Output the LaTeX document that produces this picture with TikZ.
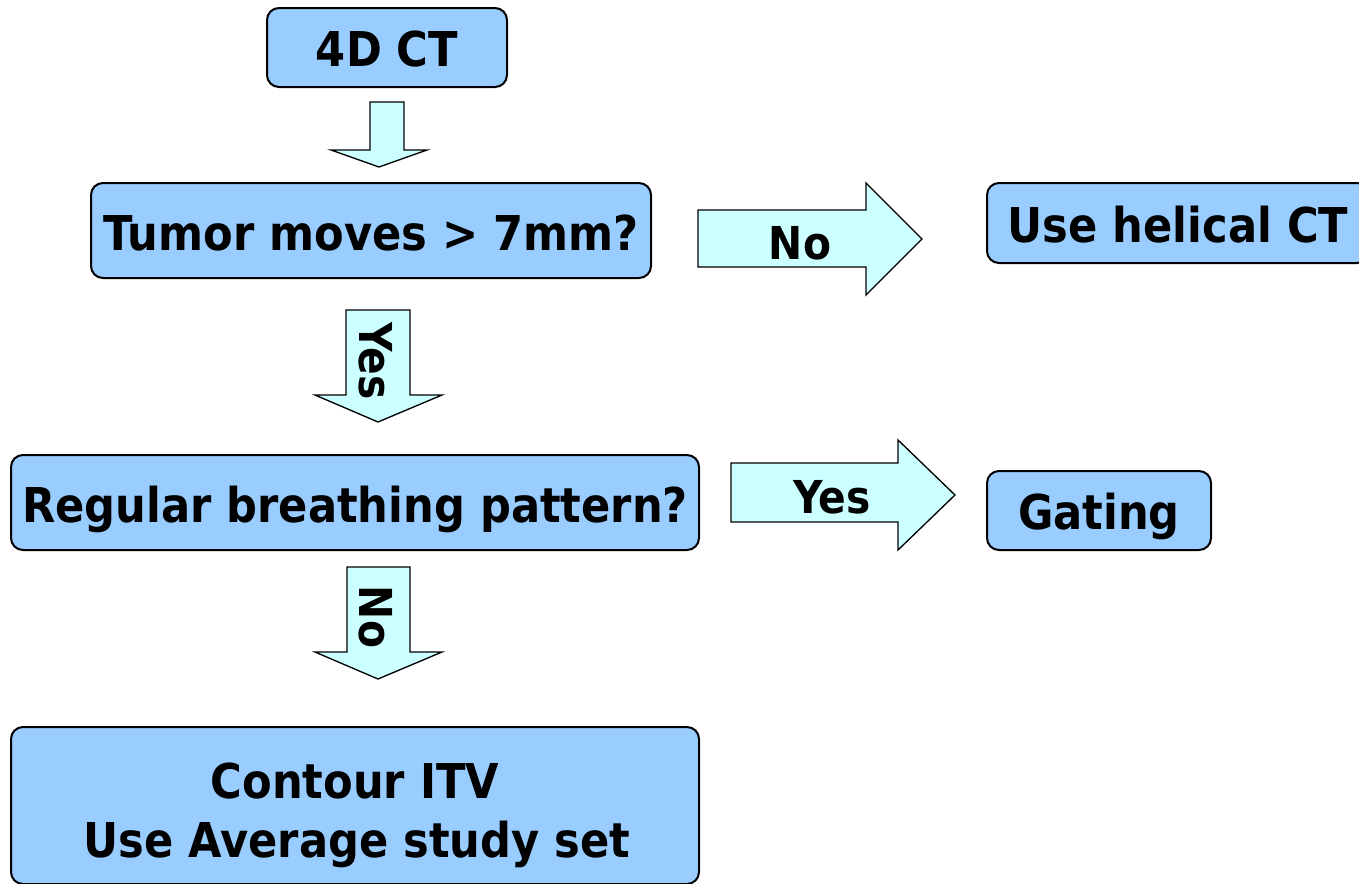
\documentclass[tikz,border=0pt]{standalone}
\usepackage{fontspec}
\setmainfont{DejaVu Sans}[FakeStretch=0.90]
\definecolor{boxblue}{HTML}{99CCFF}
\definecolor{arrowcyan}{HTML}{CCFFFF}
\tikzset{
  txt/.style={font=\fontsize{36}{44}\selectfont\bfseries, text height=26.2pt, text depth=0pt},
  box/.style={txt, draw=black, line width=1.5pt, fill=boxblue, rounded corners=9pt, inner sep=0pt},
  blockarrow/.style={draw=black, line width=1pt, fill=arrowcyan},
  lbl/.style={font=\fontsize{34}{40}\selectfont\bfseries, inner sep=0pt}
}
\begin{document}
\begin{tikzpicture}[x=0.75pt,y=-0.75pt]
\useasboundingbox (0,0) rectangle (1359,883);
% boxes
\node[box, minimum width=240*0.75pt, minimum height=79*0.75pt] (ct) at (387,47.5) {};
\node[txt, inner sep=0pt] (ctt) at (387,49.5) {4D CT};
\node[box, minimum width=560*0.75pt, minimum height=95*0.75pt] (tumor) at (371,230.5) {};
\node[txt, inner sep=0pt] (tumort) at (371,233) {Tumor moves > 7mm?};
\node[box, minimum width=382*0.75pt, minimum height=80*0.75pt] (helical) at (1178,223) {};
\node[txt, inner sep=0pt] (helicalt) at (1178,225.5) {Use helical CT};
\node[box, minimum width=688*0.75pt, minimum height=95*0.75pt] (regular) at (355,502.5) {};
\node[txt, inner sep=0pt] (regulart) at (355,505) {Regular breathing pattern?};
\node[box, minimum width=224*0.75pt, minimum height=79*0.75pt] (gating) at (1099,510.5) {};
\node[txt, inner sep=0pt] (gatingt) at (1099,512) {Gating};
\node[box, minimum width=688*0.75pt, minimum height=157*0.75pt] (contour) at (355,805.5) {};
\node[txt, inner sep=0pt] (contourA) at (355,781) {Contour ITV};
\node[txt, inner sep=0pt] (contourB) at (357,840) {Use Average study set};
% block arrows
\draw[blockarrow] (370,102) -- (404,102) -- (404,150) -- (427,150) -- (379,167) -- (331,150) -- (370,150) -- cycle;
\draw[blockarrow] (698,210) -- (866,210) -- (866,183) -- (922,239) -- (866,295) -- (866,267) -- (698,267) -- cycle;
\draw[blockarrow] (346,310) -- (410,310) -- (410,395) -- (442,395) -- (378,422) -- (315,395) -- (346,395) -- cycle;
\draw[blockarrow] (731,463) -- (898,463) -- (898,440) -- (955,495) -- (898,550) -- (898,522) -- (731,522) -- cycle;
\draw[blockarrow] (347,567) -- (410,567) -- (410,652) -- (442,652) -- (378,679) -- (315,652) -- (347,652) -- cycle;
% labels
\node[lbl] (noA) at (800,243) {No};
\node[lbl] (yesA) at (832,497) {Yes};
\node[lbl, rotate=-90] (yesB) at (376,361) {Yes};
\node[lbl, rotate=-90] (noB) at (376,617) {No};
\end{tikzpicture}
\end{document}
